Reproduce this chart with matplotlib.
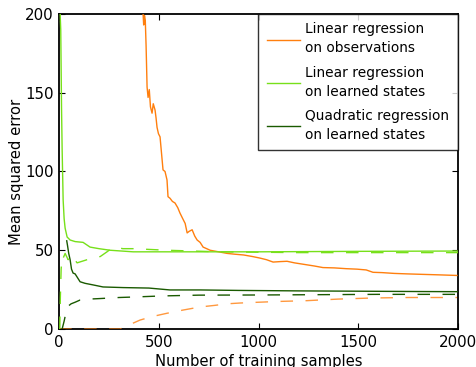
import matplotlib
matplotlib.use("Agg")
import matplotlib.pyplot as plt

# ---- data ----
obs_lin_x = [380, 421, 424, 428, 432, 436, 441, 446, 452, 458, 466, 472, 481, 486, 491, 498, 506,
             521, 531, 541, 546, 556, 568, 581, 595, 606, 620, 632, 642, 652, 667, 680, 692, 707,
             722, 740, 757, 800, 842, 880, 925, 970, 1008, 1040, 1073, 1110, 1143, 1180, 1230,
             1280, 1323, 1380, 1440, 1494, 1540, 1574, 1620, 1680, 1744, 1820, 1900, 1995]
obs_lin_y = [320, 200, 193, 199, 196, 180, 153.6, 147, 152, 141, 137, 143, 139, 134, 128, 124, 122,
             101, 100, 94.6, 84, 83, 81, 80, 77, 73.6, 70, 67, 61, 62, 63, 59, 56.5, 55,
             52, 51, 50, 49, 48, 47.5, 47, 46, 45, 44, 42.5, 42.8, 43, 42, 41,
             40, 39, 38.8, 38.3, 38, 37.5, 36, 35.8, 35.3, 35, 34.7, 34.4, 34]

obs_lin_test_x = [0, 306, 340, 406, 470, 541, 620, 707, 780, 842, 907, 1000, 1100, 1243, 1400, 1574, 1750, 1995]
obs_lin_test_y = [0, 0, 2, 5.7, 8, 10, 12, 14, 15, 16, 16.5, 17, 17.5, 18, 19, 19.7, 20, 20]

st_lin_x = [5, 8, 12, 15, 20, 25, 30, 40, 55, 80, 120, 155, 200, 256, 371, 600, 1000, 1500, 2000]
st_lin_y = [200, 190, 140, 114, 82, 70, 64, 58.4, 56.5, 55.5, 55, 52, 51, 50, 49, 49, 49, 49.3, 49.5]

st_lin_test_x = [3, 6, 10, 15, 20, 30, 45, 60, 90, 115, 140, 170, 206, 240, 272, 320, 371, 541, 800, 1200, 1600, 2000]
st_lin_test_y = [0, 20, 38, 46, 45, 48, 44, 47, 42, 43, 44, 45, 46, 49, 52, 51, 51, 50, 49, 48.5, 48.5, 48.5]

st_quad_x = [38, 42, 48, 55, 62, 70, 80, 90, 105, 130, 170, 220, 321, 450, 556, 707, 900, 1200, 1500, 1800, 2000]
st_quad_y = [56, 53, 48, 44, 38, 35.5, 35, 33, 30, 29, 28, 26.7, 26.3, 26, 24.8, 24.8, 24.5, 24.2, 24, 23.8, 23.7]

st_quad_test_x = [15, 25, 40, 60, 80, 105, 150, 200, 300, 371, 517, 700, 1000, 1300, 1600, 2000]
st_quad_test_y = [0, 5, 14, 16, 17, 18.4, 19, 19.3, 20, 20.3, 21, 21.5, 21.6, 21.8, 22, 22]

labels = ["Linear regression\non observations",
          "Linear regression\non learned states",
          "Quadratic regression\non learned states"]
xticks = [0, 500, 1000, 1500, 2000]
yticks = [0, 50, 100, 150, 200]

c_orange = "#ff7f0e"
c_light = "#77e01a"
c_dark = "#1a5a00"

plt.rcParams.update({
    "font.family": "DejaVu Sans",
    "xtick.direction": "in",
    "ytick.direction": "in",
    "xtick.top": True,
    "ytick.right": True,
    "xtick.major.size": 4,
    "ytick.major.size": 4,
    "axes.linewidth": 1.3,
})

fig = plt.figure(figsize=(4.77, 3.67), dpi=100)
ax = fig.add_axes([0.124, 0.1035, 0.836, 0.8585])

dash = (9, 9)
ax.plot(obs_lin_x, obs_lin_y, color=c_orange, lw=1.0, label=labels[0], zorder=3)
ax.plot(st_lin_x, st_lin_y, color=c_light, lw=1.0, label=labels[1], zorder=3)
ax.plot(st_quad_x, st_quad_y, color=c_dark, lw=1.0, label=labels[2], zorder=3)
ax.plot(obs_lin_test_x, obs_lin_test_y, color=c_orange, lw=1.0, dashes=dash, zorder=3, alpha=0.8)
ax.plot(st_lin_test_x, st_lin_test_y, color=c_light, lw=1.0, dashes=dash, zorder=3)
ax.plot(st_quad_test_x, st_quad_test_y, color=c_dark, lw=1.0, dashes=dash, zorder=3)

ax.set_xlim(0, 2000)
ax.set_ylim(0, 200)
ax.set_xticks(xticks)
ax.set_yticks(yticks)
ax.tick_params(labelsize=10.8, pad=4)
ax.set_xlabel("Number of training samples", fontsize=10.6, labelpad=3)
ax.set_ylabel("Mean squared error", fontsize=10.6, labelpad=1)

leg = ax.legend(loc="upper right", borderaxespad=0, fontsize=9.9,
                frameon=True, fancybox=False, handlelength=2.4, handletextpad=0.4,
                labelspacing=0.75, borderpad=0.62)
for t in leg.get_texts():
    t.set_linespacing(1.45)
leg.get_frame().set_edgecolor("black")
leg.get_frame().set_linewidth(1.0)

fig.savefig("out.png", dpi=100, facecolor="white")
